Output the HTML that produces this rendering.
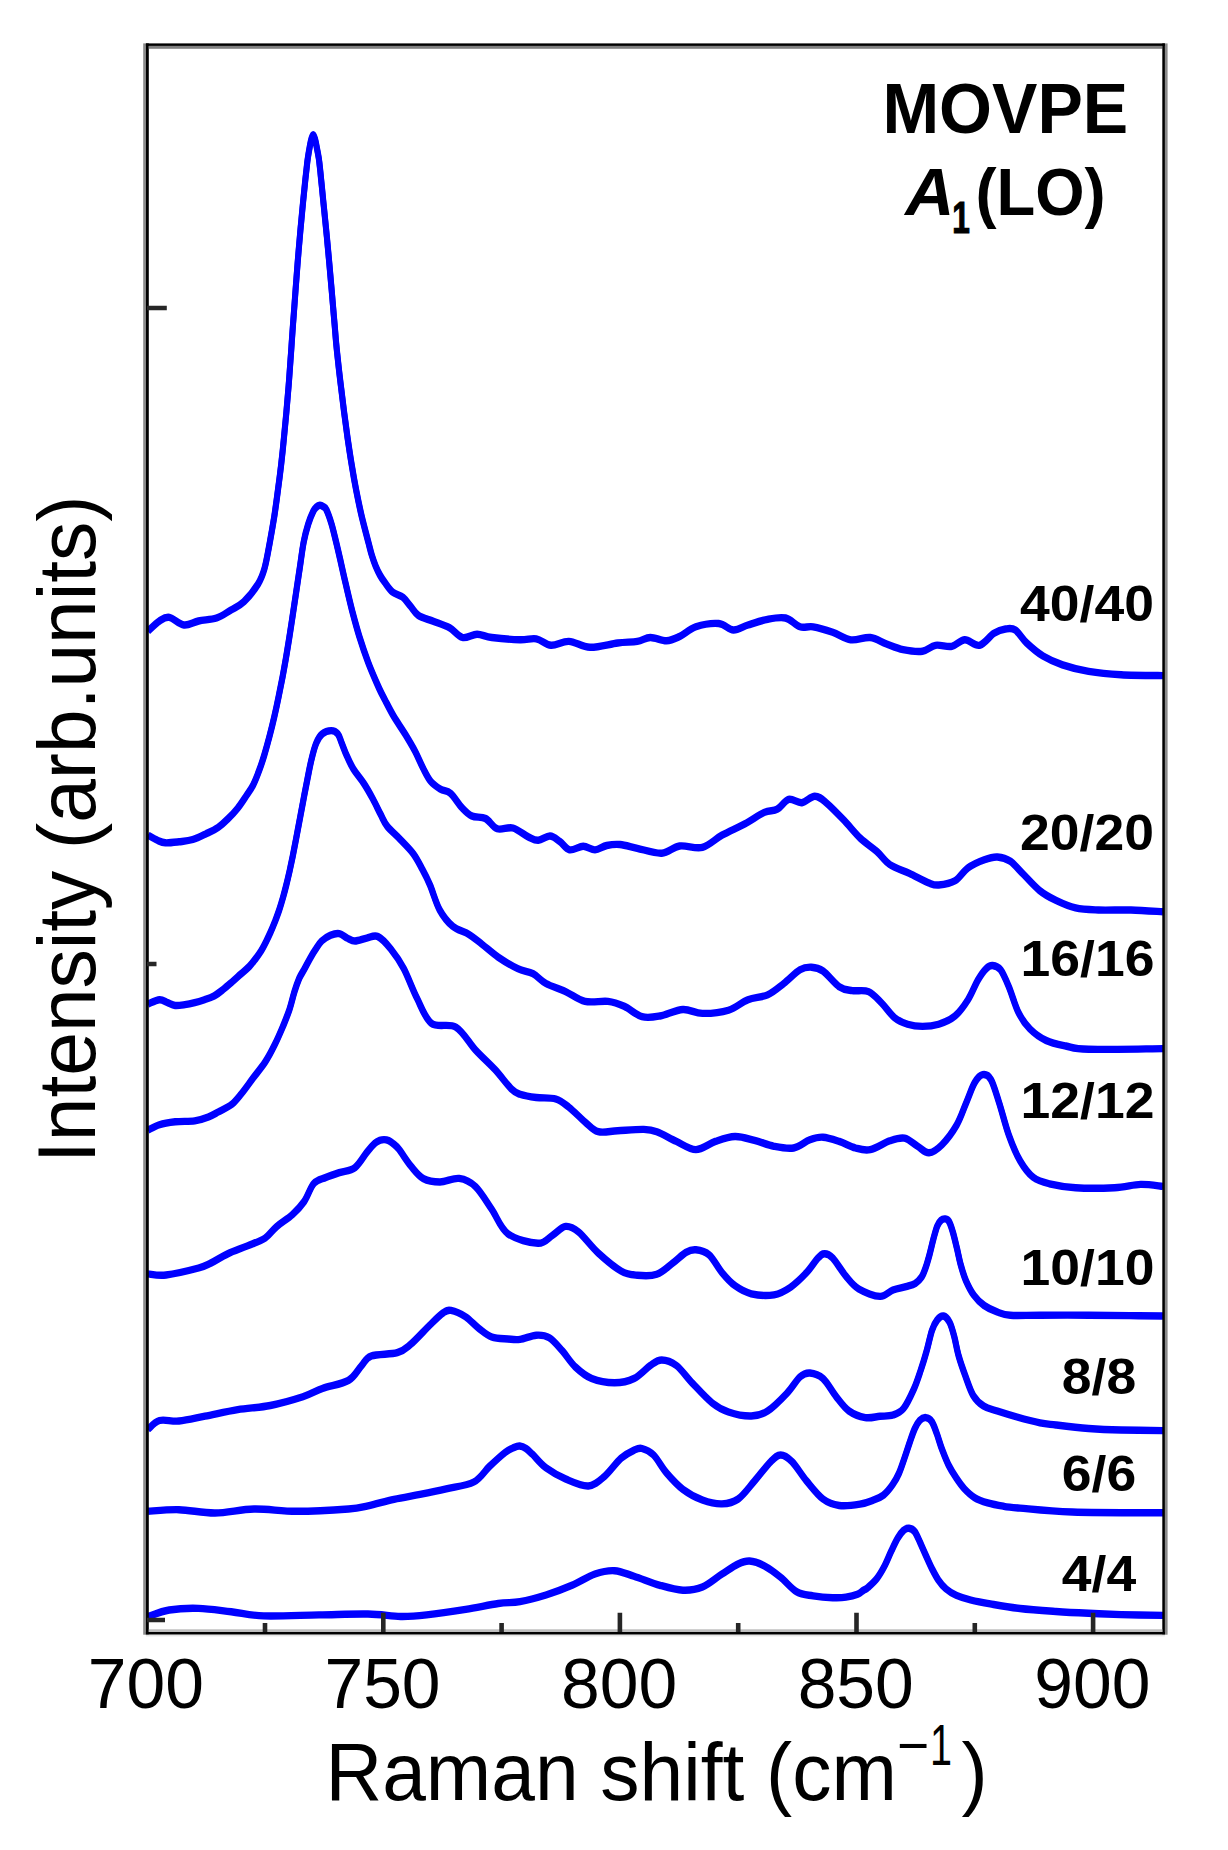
<!DOCTYPE html>
<html lang="en"><head><meta charset="utf-8"><title>MOVPE A1(LO) Raman spectra</title>
<style>
html,body{margin:0;padding:0;background:#fff;}
body{width:1228px;height:1850px;overflow:hidden;}
svg{display:block;}
text{font-family:"Liberation Sans",sans-serif;fill:#000;}
.b{font-weight:bold;}
.crv{fill:none;stroke:#0000ff;stroke-width:6.0;stroke-linejoin:round;stroke-linecap:butt;}
.ax{stroke:#000;stroke-width:4.6;fill:none;}
</style></head><body>
<svg width="1228" height="1850" viewBox="0 0 1228 1850">
<rect x="0" y="0" width="1228" height="1850" fill="#fff"/>
<g class="crv">
<path transform="translate(0 -0.7)" d="M148.1 631.0C150.0 629.3 156.0 623.3 159.5 621.0C163.0 618.7 165.2 616.6 169.3 617.3C173.4 618.0 179.1 624.4 184.0 625.0C188.9 625.6 193.2 622.2 198.6 621.0C204.0 619.8 211.1 619.8 216.5 618.0C221.9 616.2 226.4 612.7 231.0 610.0C235.6 607.3 239.5 605.9 244.0 601.6C248.5 597.3 254.6 589.6 258.0 584.1C261.4 578.6 262.5 575.5 264.5 568.5C266.5 561.5 268.2 551.1 269.8 542.4C271.4 533.7 272.9 525.1 274.3 516.4C275.6 507.7 276.8 499.0 277.9 490.3C279.1 481.6 280.2 472.9 281.2 464.2C282.2 455.5 283.1 446.9 283.9 438.2C284.8 429.5 285.6 420.8 286.4 412.1C287.2 403.4 287.9 394.7 288.6 386.0C289.3 377.3 290.0 367.4 290.5 360.0C291.1 352.6 291.3 348.9 291.8 341.5C292.3 334.1 293.0 324.1 293.7 315.4C294.3 306.7 295.0 298.1 295.6 289.4C296.3 280.7 296.9 272.0 297.6 263.3C298.3 254.6 299.0 246.0 299.8 237.3C300.5 228.6 301.4 219.9 302.2 211.2C303.0 202.5 304.1 191.6 304.8 185.1C305.4 178.6 305.7 176.3 306.2 172.0C306.7 167.7 307.1 163.2 307.7 159.0C308.3 154.8 309.1 150.3 309.7 147.0C310.3 143.7 310.8 141.1 311.4 139.0C312.0 136.9 312.6 134.6 313.2 134.6C313.8 134.6 314.4 136.9 315.0 139.0C315.6 141.1 316.1 143.7 316.7 147.0C317.3 150.3 318.3 154.8 318.9 159.0C319.5 163.2 319.9 167.7 320.4 172.0C320.8 176.3 321.0 178.6 321.7 185.1C322.3 191.6 323.4 202.5 324.3 211.2C325.2 219.9 326.0 228.6 326.9 237.3C327.7 246.0 328.5 254.6 329.3 263.3C330.0 272.0 330.8 280.7 331.6 289.4C332.3 298.1 333.1 306.7 333.8 315.4C334.6 324.1 335.4 334.1 336.0 341.5C336.7 348.9 337.1 352.6 337.9 360.0C338.7 367.4 339.8 377.3 340.9 386.0C341.9 394.7 343.0 403.4 344.1 412.1C345.2 420.8 346.4 429.5 347.6 438.2C348.9 446.9 350.1 455.5 351.6 464.2C353.0 472.9 354.5 481.6 356.2 490.3C357.9 499.0 359.7 507.7 361.7 516.4C363.8 525.1 366.7 535.9 368.4 542.4C370.1 548.9 370.7 551.6 371.9 555.5C373.1 559.4 374.3 562.8 375.6 566.0C376.9 569.2 378.4 572.3 379.9 575.0C381.4 577.7 382.6 579.5 384.7 582.3C386.8 585.1 389.5 589.5 392.5 592.0C395.5 594.5 399.9 594.9 402.9 597.3C405.9 599.7 408.1 603.4 410.7 606.4C413.3 609.4 414.8 613.0 418.5 615.5C422.2 618.0 428.1 619.2 433.2 621.2C438.3 623.2 444.5 625.0 449.4 627.7C454.3 630.4 457.9 636.4 462.5 637.5C467.1 638.6 472.2 634.2 477.1 634.2C482.0 634.2 484.7 636.6 491.8 637.5C498.9 638.4 512.6 639.6 520.0 639.8C527.4 640.0 531.1 637.9 536.3 638.8C541.5 639.7 545.6 644.9 551.0 645.3C556.4 645.7 562.4 641.1 568.9 641.4C575.4 641.7 581.9 647.0 590.0 647.3C598.1 647.6 609.8 644.0 617.7 643.0C625.6 642.0 631.9 642.3 637.3 641.4C642.7 640.5 645.4 637.6 650.3 637.5C655.2 637.4 661.7 641.0 666.6 640.8C671.5 640.6 674.7 638.8 679.6 636.5C684.5 634.2 689.4 629.0 695.9 626.8C702.4 624.6 712.5 623.0 718.7 623.5C725.0 624.0 728.5 629.8 733.4 630.0C738.3 630.2 742.3 626.8 748.0 625.0C753.7 623.2 761.4 620.5 767.6 619.3C773.9 618.1 780.1 616.8 785.5 618.0C790.9 619.2 795.4 625.3 800.0 626.8C804.6 628.3 807.8 625.9 813.2 626.8C818.7 627.7 826.4 630.1 832.7 632.3C839.0 634.5 844.5 638.9 850.8 639.8C857.1 640.7 864.3 636.8 870.3 637.5C876.3 638.2 881.1 642.0 886.6 644.0C892.1 646.0 897.0 648.4 903.0 649.6C909.0 650.8 917.1 651.9 922.5 651.2C927.9 650.5 930.6 646.1 935.5 645.3C940.4 644.5 946.9 647.2 951.8 646.3C956.7 645.4 960.2 640.0 964.8 639.8C969.4 639.6 974.6 646.4 979.5 645.3C984.4 644.2 989.7 636.0 994.0 633.3C998.3 630.6 1002.0 629.5 1005.5 629.0C1009.0 628.5 1011.8 627.7 1015.3 630.0C1018.8 632.3 1022.1 638.7 1026.7 643.0C1031.3 647.3 1037.0 652.4 1043.0 656.0C1049.0 659.6 1054.9 662.3 1062.5 664.9C1070.1 667.5 1078.8 669.8 1088.6 671.4C1098.3 673.0 1108.6 674.0 1121.0 674.7C1133.4 675.4 1156.0 675.5 1163.0 675.6"/>
<path transform="translate(0 0.7)" d="M148.1 631.0C150.0 629.3 156.0 623.3 159.5 621.0C163.0 618.7 165.2 616.6 169.3 617.3C173.4 618.0 179.1 624.4 184.0 625.0C188.9 625.6 193.2 622.2 198.6 621.0C204.0 619.8 211.1 619.8 216.5 618.0C221.9 616.2 226.4 612.7 231.0 610.0C235.6 607.3 239.5 605.9 244.0 601.6C248.5 597.3 254.6 589.6 258.0 584.1C261.4 578.6 262.5 575.5 264.5 568.5C266.5 561.5 268.2 551.1 269.8 542.4C271.4 533.7 272.9 525.1 274.3 516.4C275.6 507.7 276.8 499.0 277.9 490.3C279.1 481.6 280.2 472.9 281.2 464.2C282.2 455.5 283.1 446.9 283.9 438.2C284.8 429.5 285.6 420.8 286.4 412.1C287.2 403.4 287.9 394.7 288.6 386.0C289.3 377.3 290.0 367.4 290.5 360.0C291.1 352.6 291.3 348.9 291.8 341.5C292.3 334.1 293.0 324.1 293.7 315.4C294.3 306.7 295.0 298.1 295.6 289.4C296.3 280.7 296.9 272.0 297.6 263.3C298.3 254.6 299.0 246.0 299.8 237.3C300.5 228.6 301.4 219.9 302.2 211.2C303.0 202.5 304.1 191.6 304.8 185.1C305.4 178.6 305.7 176.3 306.2 172.0C306.7 167.7 307.1 163.2 307.7 159.0C308.3 154.8 309.1 150.3 309.7 147.0C310.3 143.7 310.8 141.1 311.4 139.0C312.0 136.9 312.6 134.6 313.2 134.6C313.8 134.6 314.4 136.9 315.0 139.0C315.6 141.1 316.1 143.7 316.7 147.0C317.3 150.3 318.3 154.8 318.9 159.0C319.5 163.2 319.9 167.7 320.4 172.0C320.8 176.3 321.0 178.6 321.7 185.1C322.3 191.6 323.4 202.5 324.3 211.2C325.2 219.9 326.0 228.6 326.9 237.3C327.7 246.0 328.5 254.6 329.3 263.3C330.0 272.0 330.8 280.7 331.6 289.4C332.3 298.1 333.1 306.7 333.8 315.4C334.6 324.1 335.4 334.1 336.0 341.5C336.7 348.9 337.1 352.6 337.9 360.0C338.7 367.4 339.8 377.3 340.9 386.0C341.9 394.7 343.0 403.4 344.1 412.1C345.2 420.8 346.4 429.5 347.6 438.2C348.9 446.9 350.1 455.5 351.6 464.2C353.0 472.9 354.5 481.6 356.2 490.3C357.9 499.0 359.7 507.7 361.7 516.4C363.8 525.1 366.7 535.9 368.4 542.4C370.1 548.9 370.7 551.6 371.9 555.5C373.1 559.4 374.3 562.8 375.6 566.0C376.9 569.2 378.4 572.3 379.9 575.0C381.4 577.7 382.6 579.5 384.7 582.3C386.8 585.1 389.5 589.5 392.5 592.0C395.5 594.5 399.9 594.9 402.9 597.3C405.9 599.7 408.1 603.4 410.7 606.4C413.3 609.4 414.8 613.0 418.5 615.5C422.2 618.0 428.1 619.2 433.2 621.2C438.3 623.2 444.5 625.0 449.4 627.7C454.3 630.4 457.9 636.4 462.5 637.5C467.1 638.6 472.2 634.2 477.1 634.2C482.0 634.2 484.7 636.6 491.8 637.5C498.9 638.4 512.6 639.6 520.0 639.8C527.4 640.0 531.1 637.9 536.3 638.8C541.5 639.7 545.6 644.9 551.0 645.3C556.4 645.7 562.4 641.1 568.9 641.4C575.4 641.7 581.9 647.0 590.0 647.3C598.1 647.6 609.8 644.0 617.7 643.0C625.6 642.0 631.9 642.3 637.3 641.4C642.7 640.5 645.4 637.6 650.3 637.5C655.2 637.4 661.7 641.0 666.6 640.8C671.5 640.6 674.7 638.8 679.6 636.5C684.5 634.2 689.4 629.0 695.9 626.8C702.4 624.6 712.5 623.0 718.7 623.5C725.0 624.0 728.5 629.8 733.4 630.0C738.3 630.2 742.3 626.8 748.0 625.0C753.7 623.2 761.4 620.5 767.6 619.3C773.9 618.1 780.1 616.8 785.5 618.0C790.9 619.2 795.4 625.3 800.0 626.8C804.6 628.3 807.8 625.9 813.2 626.8C818.7 627.7 826.4 630.1 832.7 632.3C839.0 634.5 844.5 638.9 850.8 639.8C857.1 640.7 864.3 636.8 870.3 637.5C876.3 638.2 881.1 642.0 886.6 644.0C892.1 646.0 897.0 648.4 903.0 649.6C909.0 650.8 917.1 651.9 922.5 651.2C927.9 650.5 930.6 646.1 935.5 645.3C940.4 644.5 946.9 647.2 951.8 646.3C956.7 645.4 960.2 640.0 964.8 639.8C969.4 639.6 974.6 646.4 979.5 645.3C984.4 644.2 989.7 636.0 994.0 633.3C998.3 630.6 1002.0 629.5 1005.5 629.0C1009.0 628.5 1011.8 627.7 1015.3 630.0C1018.8 632.3 1022.1 638.7 1026.7 643.0C1031.3 647.3 1037.0 652.4 1043.0 656.0C1049.0 659.6 1054.9 662.3 1062.5 664.9C1070.1 667.5 1078.8 669.8 1088.6 671.4C1098.3 673.0 1108.6 674.0 1121.0 674.7C1133.4 675.4 1156.0 675.5 1163.0 675.6"/>
<path transform="translate(0 -0.7)" d="M148.1 835.2C149.7 836.1 154.7 839.1 157.6 840.4C160.5 841.7 161.8 842.6 165.4 842.8C169.0 843.0 174.5 842.3 179.1 841.8C183.7 841.2 188.2 840.9 192.8 839.5C197.4 838.1 202.2 835.6 206.4 833.6C210.6 831.6 214.6 829.8 218.2 827.3C221.8 824.8 224.7 822.1 227.9 818.9C231.2 815.7 234.6 812.1 237.7 808.2C240.8 804.3 243.9 799.4 246.5 795.5C249.1 791.6 251.2 788.9 253.3 784.7C255.4 780.5 257.5 775.0 259.3 770.1C261.1 765.2 262.5 761.1 264.2 755.4C265.9 749.7 267.9 742.4 269.6 735.9C271.3 729.4 272.9 722.8 274.4 716.3C275.9 709.8 277.3 703.3 278.6 696.8C279.9 690.3 281.2 683.8 282.5 677.3C283.7 670.8 284.9 664.2 286.0 657.7C287.1 651.2 288.1 645.2 289.2 638.2C290.3 631.2 291.5 623.4 292.6 616.0C293.7 608.6 294.7 601.9 295.9 594.0C297.0 586.1 298.4 577.1 299.7 568.5C301.0 559.9 302.2 549.8 303.6 542.4C305.0 535.0 306.6 529.4 308.2 524.2C309.8 519.0 312.0 514.0 313.4 511.1C314.8 508.2 315.4 508.0 316.5 507.0C317.6 506.0 318.8 505.4 319.9 505.3C321.0 505.2 322.2 505.9 323.3 506.7C324.4 507.4 325.0 506.9 326.4 509.8C327.8 512.7 330.0 518.8 331.6 524.2C333.2 529.6 334.8 536.7 336.2 542.4C337.6 548.1 338.3 551.2 339.9 558.2C341.5 565.2 343.7 575.5 345.8 584.2C347.8 592.9 349.8 601.6 352.0 610.3C354.3 619.0 356.6 627.7 359.3 636.4C362.0 645.1 364.9 653.7 368.2 662.4C371.5 671.1 376.4 682.2 379.2 688.5C382.1 694.8 382.6 695.4 385.0 700.0C387.4 704.6 390.3 710.5 393.7 716.3C397.1 722.0 401.8 728.6 405.4 734.5C409.0 740.4 412.3 745.9 415.2 751.5C418.1 757.1 420.4 763.0 423.0 768.0C425.6 773.0 427.9 778.0 430.8 781.5C433.7 785.0 437.3 787.2 440.6 789.2C443.9 791.2 446.8 790.2 450.4 793.3C454.0 796.4 458.4 803.9 462.0 807.7C465.6 811.5 468.0 814.2 471.9 816.0C475.8 817.8 481.3 816.4 485.5 818.5C489.7 820.6 492.7 827.2 497.3 828.8C501.9 830.4 507.7 826.6 512.9 828.0C518.1 829.4 524.3 835.0 528.5 837.0C532.7 839.0 534.7 840.5 538.3 840.3C541.9 840.1 546.4 835.8 550.0 836.0C553.6 836.2 556.5 839.2 559.8 841.5C563.1 843.8 565.7 849.0 569.6 849.8C573.5 850.6 579.0 846.3 583.2 846.3C587.4 846.3 591.1 850.0 595.0 849.9C598.9 849.8 602.5 846.4 606.7 845.5C610.9 844.6 614.9 844.0 620.0 844.5C625.1 845.0 630.3 846.8 637.3 848.3C644.2 849.8 654.7 853.6 661.7 853.2C668.8 852.8 672.8 847.0 679.6 846.0C686.4 845.0 695.3 849.1 702.4 847.3C709.5 845.5 714.9 839.1 722.0 835.2C729.1 831.3 737.8 827.6 744.8 823.8C751.8 820.0 758.9 814.8 764.3 812.4C769.7 810.0 773.2 811.4 777.3 809.2C781.4 807.0 784.6 800.5 788.7 799.4C792.8 798.3 797.4 803.2 801.8 802.7C806.1 802.2 810.7 796.2 814.8 796.2C818.9 796.2 821.3 798.6 826.2 802.7C831.1 806.8 838.6 814.6 844.3 820.6C850.0 826.6 855.2 833.4 860.6 838.5C866.0 843.6 872.0 847.1 876.9 851.5C881.8 855.9 884.5 861.0 889.9 864.6C895.3 868.2 902.9 870.3 909.4 873.4C915.9 876.5 924.1 881.1 929.0 883.0C933.9 884.9 934.4 885.4 938.7 885.0C943.0 884.6 950.1 883.7 955.0 880.8C959.9 877.9 963.1 871.3 968.0 867.8C972.9 864.3 979.5 861.5 984.4 859.7C989.3 857.9 993.1 856.7 997.4 857.0C1001.7 857.3 1006.1 858.4 1010.4 861.3C1014.7 864.2 1018.5 869.4 1023.4 874.3C1028.3 879.2 1034.3 886.2 1039.7 890.6C1045.1 895.0 1050.0 897.5 1056.0 900.4C1062.0 903.3 1068.5 906.3 1075.6 907.9C1082.7 909.5 1089.2 909.6 1098.4 910.0C1107.6 910.4 1120.2 909.7 1131.0 910.0C1141.8 910.3 1157.7 911.5 1163.0 911.8"/>
<path transform="translate(0 0.7)" d="M148.1 835.2C149.7 836.1 154.7 839.1 157.6 840.4C160.5 841.7 161.8 842.6 165.4 842.8C169.0 843.0 174.5 842.3 179.1 841.8C183.7 841.2 188.2 840.9 192.8 839.5C197.4 838.1 202.2 835.6 206.4 833.6C210.6 831.6 214.6 829.8 218.2 827.3C221.8 824.8 224.7 822.1 227.9 818.9C231.2 815.7 234.6 812.1 237.7 808.2C240.8 804.3 243.9 799.4 246.5 795.5C249.1 791.6 251.2 788.9 253.3 784.7C255.4 780.5 257.5 775.0 259.3 770.1C261.1 765.2 262.5 761.1 264.2 755.4C265.9 749.7 267.9 742.4 269.6 735.9C271.3 729.4 272.9 722.8 274.4 716.3C275.9 709.8 277.3 703.3 278.6 696.8C279.9 690.3 281.2 683.8 282.5 677.3C283.7 670.8 284.9 664.2 286.0 657.7C287.1 651.2 288.1 645.2 289.2 638.2C290.3 631.2 291.5 623.4 292.6 616.0C293.7 608.6 294.7 601.9 295.9 594.0C297.0 586.1 298.4 577.1 299.7 568.5C301.0 559.9 302.2 549.8 303.6 542.4C305.0 535.0 306.6 529.4 308.2 524.2C309.8 519.0 312.0 514.0 313.4 511.1C314.8 508.2 315.4 508.0 316.5 507.0C317.6 506.0 318.8 505.4 319.9 505.3C321.0 505.2 322.2 505.9 323.3 506.7C324.4 507.4 325.0 506.9 326.4 509.8C327.8 512.7 330.0 518.8 331.6 524.2C333.2 529.6 334.8 536.7 336.2 542.4C337.6 548.1 338.3 551.2 339.9 558.2C341.5 565.2 343.7 575.5 345.8 584.2C347.8 592.9 349.8 601.6 352.0 610.3C354.3 619.0 356.6 627.7 359.3 636.4C362.0 645.1 364.9 653.7 368.2 662.4C371.5 671.1 376.4 682.2 379.2 688.5C382.1 694.8 382.6 695.4 385.0 700.0C387.4 704.6 390.3 710.5 393.7 716.3C397.1 722.0 401.8 728.6 405.4 734.5C409.0 740.4 412.3 745.9 415.2 751.5C418.1 757.1 420.4 763.0 423.0 768.0C425.6 773.0 427.9 778.0 430.8 781.5C433.7 785.0 437.3 787.2 440.6 789.2C443.9 791.2 446.8 790.2 450.4 793.3C454.0 796.4 458.4 803.9 462.0 807.7C465.6 811.5 468.0 814.2 471.9 816.0C475.8 817.8 481.3 816.4 485.5 818.5C489.7 820.6 492.7 827.2 497.3 828.8C501.9 830.4 507.7 826.6 512.9 828.0C518.1 829.4 524.3 835.0 528.5 837.0C532.7 839.0 534.7 840.5 538.3 840.3C541.9 840.1 546.4 835.8 550.0 836.0C553.6 836.2 556.5 839.2 559.8 841.5C563.1 843.8 565.7 849.0 569.6 849.8C573.5 850.6 579.0 846.3 583.2 846.3C587.4 846.3 591.1 850.0 595.0 849.9C598.9 849.8 602.5 846.4 606.7 845.5C610.9 844.6 614.9 844.0 620.0 844.5C625.1 845.0 630.3 846.8 637.3 848.3C644.2 849.8 654.7 853.6 661.7 853.2C668.8 852.8 672.8 847.0 679.6 846.0C686.4 845.0 695.3 849.1 702.4 847.3C709.5 845.5 714.9 839.1 722.0 835.2C729.1 831.3 737.8 827.6 744.8 823.8C751.8 820.0 758.9 814.8 764.3 812.4C769.7 810.0 773.2 811.4 777.3 809.2C781.4 807.0 784.6 800.5 788.7 799.4C792.8 798.3 797.4 803.2 801.8 802.7C806.1 802.2 810.7 796.2 814.8 796.2C818.9 796.2 821.3 798.6 826.2 802.7C831.1 806.8 838.6 814.6 844.3 820.6C850.0 826.6 855.2 833.4 860.6 838.5C866.0 843.6 872.0 847.1 876.9 851.5C881.8 855.9 884.5 861.0 889.9 864.6C895.3 868.2 902.9 870.3 909.4 873.4C915.9 876.5 924.1 881.1 929.0 883.0C933.9 884.9 934.4 885.4 938.7 885.0C943.0 884.6 950.1 883.7 955.0 880.8C959.9 877.9 963.1 871.3 968.0 867.8C972.9 864.3 979.5 861.5 984.4 859.7C989.3 857.9 993.1 856.7 997.4 857.0C1001.7 857.3 1006.1 858.4 1010.4 861.3C1014.7 864.2 1018.5 869.4 1023.4 874.3C1028.3 879.2 1034.3 886.2 1039.7 890.6C1045.1 895.0 1050.0 897.5 1056.0 900.4C1062.0 903.3 1068.5 906.3 1075.6 907.9C1082.7 909.5 1089.2 909.6 1098.4 910.0C1107.6 910.4 1120.2 909.7 1131.0 910.0C1141.8 910.3 1157.7 911.5 1163.0 911.8"/>
<path transform="translate(0 -0.7)" d="M148.1 1004.0C150.0 1003.3 156.3 999.9 159.5 999.7C162.7 999.5 164.8 1001.6 167.4 1002.6C170.0 1003.6 172.3 1005.2 175.2 1005.5C178.1 1005.8 181.7 1005.1 184.9 1004.6C188.2 1004.1 191.4 1003.4 194.7 1002.6C198.0 1001.8 201.2 1000.8 204.5 999.7C207.8 998.6 211.2 997.5 214.3 995.8C217.4 994.1 220.2 991.8 223.1 989.5C226.0 987.2 229.0 984.6 231.9 982.1C234.8 979.6 237.7 976.9 240.6 974.3C243.5 971.7 246.9 969.0 249.4 966.4C251.9 963.8 253.7 961.2 255.7 958.6C257.7 956.0 259.4 953.7 261.2 950.8C263.0 947.9 264.9 944.0 266.4 941.0C267.9 938.0 268.9 935.8 270.4 932.5C271.9 929.2 273.7 924.8 275.2 921.0C276.6 917.2 277.9 913.9 279.2 910.0C280.5 906.1 281.8 901.7 283.0 897.5C284.2 893.3 285.2 889.4 286.3 885.0C287.4 880.6 288.5 875.8 289.6 871.0C290.6 866.2 291.3 863.2 292.7 856.4C294.0 849.6 296.1 839.0 297.7 830.3C299.4 821.6 300.9 812.9 302.6 804.2C304.2 795.5 306.1 785.8 307.6 778.2C309.1 770.6 310.2 764.5 311.7 758.6C313.1 752.7 314.6 747.1 316.3 743.0C318.0 738.9 319.6 736.0 322.1 733.9C324.6 731.8 328.6 730.6 331.2 730.6C333.8 730.6 336.1 731.8 337.8 733.9C339.6 736.0 340.2 739.3 341.7 743.0C343.2 746.7 344.9 751.7 346.9 756.0C348.8 760.3 350.6 764.4 353.4 769.0C356.2 773.6 360.6 778.4 363.8 783.4C367.1 788.4 370.1 793.8 372.9 799.0C375.7 804.2 378.4 810.1 380.8 814.7C383.2 819.3 384.1 822.3 387.3 826.4C390.6 830.5 396.0 834.8 400.3 839.4C404.6 844.0 409.6 848.7 413.3 853.7C417.0 858.7 419.6 864.2 422.4 869.4C425.2 874.6 427.1 878.2 430.0 885.0C432.9 891.8 435.9 903.1 439.7 910.0C443.5 916.9 447.8 922.2 452.7 926.3C457.6 930.4 464.1 931.4 469.0 934.4C473.9 937.4 477.1 940.4 482.0 944.2C486.9 948.0 492.3 953.1 498.3 957.2C504.3 961.3 512.0 965.9 517.8 968.6C523.6 971.4 528.3 971.2 533.0 973.7C537.7 976.2 540.6 980.5 546.0 983.5C551.4 986.5 559.1 988.6 565.6 991.6C572.1 994.6 577.9 999.8 585.0 1001.4C592.1 1003.0 601.5 1000.6 608.0 1001.4C614.5 1002.2 618.5 1003.8 624.2 1006.3C629.9 1008.8 636.0 1015.1 642.0 1016.7C648.0 1018.3 653.2 1017.2 660.0 1016.0C666.8 1014.8 675.8 1009.9 682.9 1009.5C690.0 1009.1 694.8 1013.3 702.4 1013.4C710.0 1013.5 720.9 1012.5 728.5 1010.2C736.1 1007.9 741.5 1002.2 748.0 999.7C754.5 997.2 761.6 997.6 767.6 994.9C773.6 992.2 778.4 987.7 783.8 983.5C789.2 979.3 795.4 972.5 800.0 969.8C804.6 967.1 807.7 967.0 811.5 967.2C815.3 967.4 818.4 967.8 823.0 971.0C827.6 974.2 834.3 983.4 839.2 986.7C844.1 990.0 847.3 989.8 852.2 990.6C857.1 991.4 863.6 989.5 868.5 991.6C873.4 993.7 877.2 998.6 881.6 1003.0C886.0 1007.4 890.3 1014.2 894.6 1017.7C898.9 1021.2 903.0 1022.8 907.6 1024.2C912.2 1025.7 917.3 1026.4 922.5 1026.4C927.7 1026.4 933.3 1025.9 938.7 1024.2C944.1 1022.5 950.1 1020.1 955.0 1016.0C959.9 1011.9 964.2 1005.7 968.0 999.7C971.8 993.7 974.8 985.4 977.8 980.2C980.8 975.1 983.5 971.2 986.0 968.8C988.5 966.3 990.1 965.3 992.5 965.5C994.9 965.7 997.9 966.3 1000.6 969.8C1003.3 973.3 1005.8 979.5 1008.8 986.7C1011.8 993.9 1015.1 1005.8 1018.6 1012.8C1022.1 1019.8 1025.4 1024.4 1030.0 1029.0C1034.6 1033.6 1040.2 1037.7 1046.2 1040.5C1052.2 1043.3 1058.7 1044.5 1065.8 1046.0C1072.9 1047.5 1072.4 1048.9 1088.6 1049.3C1104.8 1049.7 1150.6 1048.7 1163.0 1048.6"/>
<path transform="translate(0 0.7)" d="M148.1 1004.0C150.0 1003.3 156.3 999.9 159.5 999.7C162.7 999.5 164.8 1001.6 167.4 1002.6C170.0 1003.6 172.3 1005.2 175.2 1005.5C178.1 1005.8 181.7 1005.1 184.9 1004.6C188.2 1004.1 191.4 1003.4 194.7 1002.6C198.0 1001.8 201.2 1000.8 204.5 999.7C207.8 998.6 211.2 997.5 214.3 995.8C217.4 994.1 220.2 991.8 223.1 989.5C226.0 987.2 229.0 984.6 231.9 982.1C234.8 979.6 237.7 976.9 240.6 974.3C243.5 971.7 246.9 969.0 249.4 966.4C251.9 963.8 253.7 961.2 255.7 958.6C257.7 956.0 259.4 953.7 261.2 950.8C263.0 947.9 264.9 944.0 266.4 941.0C267.9 938.0 268.9 935.8 270.4 932.5C271.9 929.2 273.7 924.8 275.2 921.0C276.6 917.2 277.9 913.9 279.2 910.0C280.5 906.1 281.8 901.7 283.0 897.5C284.2 893.3 285.2 889.4 286.3 885.0C287.4 880.6 288.5 875.8 289.6 871.0C290.6 866.2 291.3 863.2 292.7 856.4C294.0 849.6 296.1 839.0 297.7 830.3C299.4 821.6 300.9 812.9 302.6 804.2C304.2 795.5 306.1 785.8 307.6 778.2C309.1 770.6 310.2 764.5 311.7 758.6C313.1 752.7 314.6 747.1 316.3 743.0C318.0 738.9 319.6 736.0 322.1 733.9C324.6 731.8 328.6 730.6 331.2 730.6C333.8 730.6 336.1 731.8 337.8 733.9C339.6 736.0 340.2 739.3 341.7 743.0C343.2 746.7 344.9 751.7 346.9 756.0C348.8 760.3 350.6 764.4 353.4 769.0C356.2 773.6 360.6 778.4 363.8 783.4C367.1 788.4 370.1 793.8 372.9 799.0C375.7 804.2 378.4 810.1 380.8 814.7C383.2 819.3 384.1 822.3 387.3 826.4C390.6 830.5 396.0 834.8 400.3 839.4C404.6 844.0 409.6 848.7 413.3 853.7C417.0 858.7 419.6 864.2 422.4 869.4C425.2 874.6 427.1 878.2 430.0 885.0C432.9 891.8 435.9 903.1 439.7 910.0C443.5 916.9 447.8 922.2 452.7 926.3C457.6 930.4 464.1 931.4 469.0 934.4C473.9 937.4 477.1 940.4 482.0 944.2C486.9 948.0 492.3 953.1 498.3 957.2C504.3 961.3 512.0 965.9 517.8 968.6C523.6 971.4 528.3 971.2 533.0 973.7C537.7 976.2 540.6 980.5 546.0 983.5C551.4 986.5 559.1 988.6 565.6 991.6C572.1 994.6 577.9 999.8 585.0 1001.4C592.1 1003.0 601.5 1000.6 608.0 1001.4C614.5 1002.2 618.5 1003.8 624.2 1006.3C629.9 1008.8 636.0 1015.1 642.0 1016.7C648.0 1018.3 653.2 1017.2 660.0 1016.0C666.8 1014.8 675.8 1009.9 682.9 1009.5C690.0 1009.1 694.8 1013.3 702.4 1013.4C710.0 1013.5 720.9 1012.5 728.5 1010.2C736.1 1007.9 741.5 1002.2 748.0 999.7C754.5 997.2 761.6 997.6 767.6 994.9C773.6 992.2 778.4 987.7 783.8 983.5C789.2 979.3 795.4 972.5 800.0 969.8C804.6 967.1 807.7 967.0 811.5 967.2C815.3 967.4 818.4 967.8 823.0 971.0C827.6 974.2 834.3 983.4 839.2 986.7C844.1 990.0 847.3 989.8 852.2 990.6C857.1 991.4 863.6 989.5 868.5 991.6C873.4 993.7 877.2 998.6 881.6 1003.0C886.0 1007.4 890.3 1014.2 894.6 1017.7C898.9 1021.2 903.0 1022.8 907.6 1024.2C912.2 1025.7 917.3 1026.4 922.5 1026.4C927.7 1026.4 933.3 1025.9 938.7 1024.2C944.1 1022.5 950.1 1020.1 955.0 1016.0C959.9 1011.9 964.2 1005.7 968.0 999.7C971.8 993.7 974.8 985.4 977.8 980.2C980.8 975.1 983.5 971.2 986.0 968.8C988.5 966.3 990.1 965.3 992.5 965.5C994.9 965.7 997.9 966.3 1000.6 969.8C1003.3 973.3 1005.8 979.5 1008.8 986.7C1011.8 993.9 1015.1 1005.8 1018.6 1012.8C1022.1 1019.8 1025.4 1024.4 1030.0 1029.0C1034.6 1033.6 1040.2 1037.7 1046.2 1040.5C1052.2 1043.3 1058.7 1044.5 1065.8 1046.0C1072.9 1047.5 1072.4 1048.9 1088.6 1049.3C1104.8 1049.7 1150.6 1048.7 1163.0 1048.6"/>
<path transform="translate(0 -0.7)" d="M148.1 1130.0C150.0 1129.1 155.0 1126.1 159.5 1124.7C164.0 1123.3 169.3 1122.5 175.2 1121.8C181.1 1121.1 189.2 1121.6 194.7 1120.8C200.2 1120.0 204.5 1118.4 208.4 1116.9C212.3 1115.4 214.3 1114.1 218.2 1112.0C222.1 1109.9 228.0 1107.3 231.9 1104.2C235.8 1101.1 238.0 1097.9 241.6 1093.5C245.2 1089.1 249.4 1083.0 253.3 1077.8C257.2 1072.6 261.5 1067.7 265.1 1062.2C268.7 1056.7 271.9 1050.5 274.8 1044.6C277.7 1038.7 280.2 1032.9 282.7 1027.0C285.1 1021.1 287.6 1015.2 289.5 1009.4C291.4 1003.5 292.8 997.1 294.4 991.9C296.0 986.7 297.7 982.0 299.3 978.2C300.9 974.5 302.4 972.7 304.2 969.4C306.0 966.1 308.1 962.0 310.0 958.6C311.9 955.2 313.9 951.8 315.9 948.9C317.8 946.0 319.3 943.3 321.7 941.0C324.1 938.7 327.6 936.4 330.5 935.2C333.4 934.0 336.5 933.1 339.3 933.6C342.1 934.1 344.6 936.9 347.2 938.1C349.8 939.3 351.8 941.0 355.0 941.0C358.2 941.0 362.9 938.9 366.7 938.1C370.5 937.4 373.8 934.7 377.8 936.5C381.8 938.3 386.5 943.6 390.8 949.0C395.1 954.4 399.5 960.4 403.8 968.6C408.1 976.8 412.3 988.9 416.9 998.0C421.5 1007.1 425.0 1018.4 431.5 1023.3C438.0 1028.2 448.7 1022.8 456.0 1027.2C463.3 1031.7 469.0 1042.9 475.5 1050.0C482.0 1057.1 489.0 1063.1 495.0 1069.6C501.0 1076.1 507.1 1084.8 511.3 1088.9C515.5 1093.0 515.8 1092.8 520.0 1094.2C524.2 1095.6 530.3 1096.7 536.3 1097.5C542.3 1098.3 550.4 1097.4 555.8 1099.0C561.2 1100.6 564.0 1103.4 568.9 1107.2C573.8 1111.0 580.1 1117.8 585.0 1121.9C589.9 1126.0 592.8 1130.2 598.2 1131.7C603.7 1133.2 610.1 1131.1 617.7 1130.7C625.3 1130.3 637.3 1129.2 643.8 1129.4C650.3 1129.6 651.4 1129.7 656.8 1131.7C662.2 1133.7 669.9 1138.4 676.4 1141.4C682.9 1144.4 689.4 1149.6 695.9 1149.6C702.4 1149.6 708.9 1143.6 715.4 1141.4C721.9 1139.2 728.5 1136.7 735.0 1136.5C741.5 1136.3 748.0 1138.8 754.5 1140.4C761.0 1142.0 767.5 1145.0 774.0 1146.3C780.5 1147.6 787.6 1149.1 793.6 1148.0C799.6 1146.9 805.0 1141.6 809.9 1139.8C814.8 1138.0 818.1 1136.9 823.0 1137.2C827.9 1137.5 833.8 1139.6 839.2 1141.4C844.6 1143.2 850.3 1146.6 855.5 1148.0C860.7 1149.4 864.6 1150.8 870.3 1149.6C876.0 1148.4 884.2 1142.7 889.9 1140.8C895.6 1138.9 899.9 1137.3 904.5 1138.2C909.1 1139.1 913.5 1143.9 917.6 1146.3C921.7 1148.7 924.9 1153.1 929.0 1152.8C933.1 1152.5 937.4 1149.3 942.0 1144.7C946.6 1140.1 952.6 1132.1 956.7 1125.0C960.8 1117.9 963.4 1109.3 966.4 1102.3C969.4 1095.3 971.9 1087.4 974.6 1082.8C977.3 1078.2 980.0 1075.2 982.7 1074.7C985.4 1074.2 988.2 1074.9 990.9 1079.5C993.6 1084.1 996.0 1093.0 999.0 1102.3C1002.0 1111.5 1005.3 1125.2 1008.8 1135.0C1012.3 1144.8 1016.1 1154.0 1020.2 1161.0C1024.3 1168.0 1028.3 1173.5 1033.2 1177.3C1038.1 1181.1 1042.4 1182.1 1049.5 1183.8C1056.6 1185.5 1064.8 1187.0 1075.6 1187.7C1086.4 1188.4 1103.8 1188.2 1114.6 1187.7C1125.4 1187.2 1132.6 1184.6 1140.7 1184.4C1148.8 1184.2 1159.3 1186.1 1163.0 1186.4"/>
<path transform="translate(0 0.7)" d="M148.1 1130.0C150.0 1129.1 155.0 1126.1 159.5 1124.7C164.0 1123.3 169.3 1122.5 175.2 1121.8C181.1 1121.1 189.2 1121.6 194.7 1120.8C200.2 1120.0 204.5 1118.4 208.4 1116.9C212.3 1115.4 214.3 1114.1 218.2 1112.0C222.1 1109.9 228.0 1107.3 231.9 1104.2C235.8 1101.1 238.0 1097.9 241.6 1093.5C245.2 1089.1 249.4 1083.0 253.3 1077.8C257.2 1072.6 261.5 1067.7 265.1 1062.2C268.7 1056.7 271.9 1050.5 274.8 1044.6C277.7 1038.7 280.2 1032.9 282.7 1027.0C285.1 1021.1 287.6 1015.2 289.5 1009.4C291.4 1003.5 292.8 997.1 294.4 991.9C296.0 986.7 297.7 982.0 299.3 978.2C300.9 974.5 302.4 972.7 304.2 969.4C306.0 966.1 308.1 962.0 310.0 958.6C311.9 955.2 313.9 951.8 315.9 948.9C317.8 946.0 319.3 943.3 321.7 941.0C324.1 938.7 327.6 936.4 330.5 935.2C333.4 934.0 336.5 933.1 339.3 933.6C342.1 934.1 344.6 936.9 347.2 938.1C349.8 939.3 351.8 941.0 355.0 941.0C358.2 941.0 362.9 938.9 366.7 938.1C370.5 937.4 373.8 934.7 377.8 936.5C381.8 938.3 386.5 943.6 390.8 949.0C395.1 954.4 399.5 960.4 403.8 968.6C408.1 976.8 412.3 988.9 416.9 998.0C421.5 1007.1 425.0 1018.4 431.5 1023.3C438.0 1028.2 448.7 1022.8 456.0 1027.2C463.3 1031.7 469.0 1042.9 475.5 1050.0C482.0 1057.1 489.0 1063.1 495.0 1069.6C501.0 1076.1 507.1 1084.8 511.3 1088.9C515.5 1093.0 515.8 1092.8 520.0 1094.2C524.2 1095.6 530.3 1096.7 536.3 1097.5C542.3 1098.3 550.4 1097.4 555.8 1099.0C561.2 1100.6 564.0 1103.4 568.9 1107.2C573.8 1111.0 580.1 1117.8 585.0 1121.9C589.9 1126.0 592.8 1130.2 598.2 1131.7C603.7 1133.2 610.1 1131.1 617.7 1130.7C625.3 1130.3 637.3 1129.2 643.8 1129.4C650.3 1129.6 651.4 1129.7 656.8 1131.7C662.2 1133.7 669.9 1138.4 676.4 1141.4C682.9 1144.4 689.4 1149.6 695.9 1149.6C702.4 1149.6 708.9 1143.6 715.4 1141.4C721.9 1139.2 728.5 1136.7 735.0 1136.5C741.5 1136.3 748.0 1138.8 754.5 1140.4C761.0 1142.0 767.5 1145.0 774.0 1146.3C780.5 1147.6 787.6 1149.1 793.6 1148.0C799.6 1146.9 805.0 1141.6 809.9 1139.8C814.8 1138.0 818.1 1136.9 823.0 1137.2C827.9 1137.5 833.8 1139.6 839.2 1141.4C844.6 1143.2 850.3 1146.6 855.5 1148.0C860.7 1149.4 864.6 1150.8 870.3 1149.6C876.0 1148.4 884.2 1142.7 889.9 1140.8C895.6 1138.9 899.9 1137.3 904.5 1138.2C909.1 1139.1 913.5 1143.9 917.6 1146.3C921.7 1148.7 924.9 1153.1 929.0 1152.8C933.1 1152.5 937.4 1149.3 942.0 1144.7C946.6 1140.1 952.6 1132.1 956.7 1125.0C960.8 1117.9 963.4 1109.3 966.4 1102.3C969.4 1095.3 971.9 1087.4 974.6 1082.8C977.3 1078.2 980.0 1075.2 982.7 1074.7C985.4 1074.2 988.2 1074.9 990.9 1079.5C993.6 1084.1 996.0 1093.0 999.0 1102.3C1002.0 1111.5 1005.3 1125.2 1008.8 1135.0C1012.3 1144.8 1016.1 1154.0 1020.2 1161.0C1024.3 1168.0 1028.3 1173.5 1033.2 1177.3C1038.1 1181.1 1042.4 1182.1 1049.5 1183.8C1056.6 1185.5 1064.8 1187.0 1075.6 1187.7C1086.4 1188.4 1103.8 1188.2 1114.6 1187.7C1125.4 1187.2 1132.6 1184.6 1140.7 1184.4C1148.8 1184.2 1159.3 1186.1 1163.0 1186.4"/>
<path transform="translate(0 -0.7)" d="M148.1 1273.9C151.1 1274.1 157.6 1276.0 166.0 1275.0C174.4 1274.0 191.1 1270.0 198.6 1268.0C206.1 1266.0 206.1 1265.4 211.0 1263.0C215.9 1260.6 221.8 1256.5 227.9 1253.7C234.0 1250.9 241.3 1248.5 247.5 1245.9C253.7 1243.3 260.2 1241.3 265.1 1238.1C270.0 1234.8 272.2 1230.3 276.8 1226.4C281.4 1222.5 287.8 1218.8 292.4 1214.6C297.0 1210.4 300.6 1206.7 304.2 1201.5C307.8 1196.3 310.3 1187.4 313.9 1183.4C317.5 1179.4 321.5 1179.3 325.7 1177.5C329.9 1175.7 334.4 1174.2 339.3 1172.6C344.2 1170.9 350.4 1171.1 355.0 1167.6C359.6 1164.1 363.9 1155.9 367.2 1151.8C370.5 1147.7 372.9 1145.1 375.0 1143.2C377.1 1141.3 378.5 1140.9 380.0 1140.3C381.5 1139.7 382.6 1139.6 384.0 1139.6C385.4 1139.6 387.0 1139.8 388.5 1140.5C390.0 1141.2 391.2 1142.0 393.0 1143.5C394.8 1145.0 396.0 1145.5 399.0 1149.3C402.0 1153.1 407.1 1161.5 411.2 1166.4C415.3 1171.3 418.6 1176.0 423.4 1178.6C428.2 1181.2 434.0 1182.0 440.0 1182.0C446.0 1182.0 453.3 1177.6 459.2 1178.4C465.1 1179.2 470.1 1181.4 475.5 1186.6C480.9 1191.8 486.4 1201.5 491.8 1209.4C497.2 1217.3 500.3 1228.2 508.0 1233.8C515.7 1239.4 530.6 1243.1 538.0 1243.3C545.4 1243.5 548.0 1238.0 552.6 1235.2C557.2 1232.4 561.3 1226.9 565.6 1226.4C569.9 1225.9 573.2 1227.6 578.6 1232.0C584.0 1236.4 591.1 1246.5 598.2 1253.0C605.3 1259.5 614.5 1267.3 621.0 1271.0C627.5 1274.7 631.3 1274.7 637.3 1275.2C643.3 1275.8 650.8 1276.3 656.8 1274.3C662.8 1272.2 668.1 1266.6 673.0 1262.9C677.9 1259.2 682.2 1254.6 686.0 1252.4C689.8 1250.2 692.1 1249.4 695.9 1249.8C699.7 1250.2 704.6 1250.9 709.0 1254.7C713.4 1258.5 717.7 1267.4 722.0 1272.6C726.3 1277.8 730.1 1282.2 735.0 1285.7C739.9 1289.2 744.8 1292.3 751.3 1293.8C757.8 1295.3 767.5 1295.9 774.0 1294.8C780.5 1293.7 785.0 1291.0 790.4 1287.3C795.8 1283.6 802.0 1277.5 806.6 1272.6C811.2 1267.7 815.0 1261.2 818.0 1258.0C821.0 1254.8 822.1 1253.7 824.6 1253.7C827.1 1253.7 829.2 1254.3 832.7 1258.0C836.2 1261.7 841.4 1270.7 845.7 1275.9C850.1 1281.1 853.1 1285.6 858.8 1289.0C864.5 1292.4 874.3 1296.2 880.0 1296.4C885.7 1296.6 888.7 1291.5 893.0 1289.9C897.3 1288.3 902.3 1287.7 906.0 1286.6C909.7 1285.5 912.6 1285.0 915.2 1283.4C917.8 1281.8 920.0 1279.5 921.7 1276.9C923.4 1274.3 924.3 1271.5 925.6 1267.8C926.9 1264.1 928.2 1259.5 929.5 1254.7C930.8 1249.9 932.1 1243.8 933.4 1239.0C934.7 1234.2 936.0 1229.1 937.3 1226.0C938.6 1222.9 939.9 1221.4 941.2 1220.2C942.5 1219.0 943.8 1218.7 945.1 1218.9C946.4 1219.1 947.7 1219.2 949.0 1221.5C950.3 1223.8 951.7 1228.1 953.0 1232.6C954.3 1237.0 955.6 1242.8 956.9 1248.2C958.2 1253.6 959.3 1259.7 960.8 1265.1C962.3 1270.5 963.8 1275.8 966.0 1280.8C968.2 1285.8 970.8 1291.0 973.8 1295.1C976.8 1299.2 980.3 1302.7 984.2 1305.5C988.1 1308.3 992.9 1310.4 997.3 1312.0C1001.6 1313.6 1003.2 1314.8 1010.3 1315.3C1017.4 1315.8 1027.0 1315.2 1040.0 1315.2C1053.0 1315.2 1073.6 1315.1 1088.6 1315.2C1103.6 1315.3 1117.6 1315.5 1130.0 1315.6C1142.4 1315.7 1157.5 1315.9 1163.0 1316.0"/>
<path transform="translate(0 0.7)" d="M148.1 1273.9C151.1 1274.1 157.6 1276.0 166.0 1275.0C174.4 1274.0 191.1 1270.0 198.6 1268.0C206.1 1266.0 206.1 1265.4 211.0 1263.0C215.9 1260.6 221.8 1256.5 227.9 1253.7C234.0 1250.9 241.3 1248.5 247.5 1245.9C253.7 1243.3 260.2 1241.3 265.1 1238.1C270.0 1234.8 272.2 1230.3 276.8 1226.4C281.4 1222.5 287.8 1218.8 292.4 1214.6C297.0 1210.4 300.6 1206.7 304.2 1201.5C307.8 1196.3 310.3 1187.4 313.9 1183.4C317.5 1179.4 321.5 1179.3 325.7 1177.5C329.9 1175.7 334.4 1174.2 339.3 1172.6C344.2 1170.9 350.4 1171.1 355.0 1167.6C359.6 1164.1 363.9 1155.9 367.2 1151.8C370.5 1147.7 372.9 1145.1 375.0 1143.2C377.1 1141.3 378.5 1140.9 380.0 1140.3C381.5 1139.7 382.6 1139.6 384.0 1139.6C385.4 1139.6 387.0 1139.8 388.5 1140.5C390.0 1141.2 391.2 1142.0 393.0 1143.5C394.8 1145.0 396.0 1145.5 399.0 1149.3C402.0 1153.1 407.1 1161.5 411.2 1166.4C415.3 1171.3 418.6 1176.0 423.4 1178.6C428.2 1181.2 434.0 1182.0 440.0 1182.0C446.0 1182.0 453.3 1177.6 459.2 1178.4C465.1 1179.2 470.1 1181.4 475.5 1186.6C480.9 1191.8 486.4 1201.5 491.8 1209.4C497.2 1217.3 500.3 1228.2 508.0 1233.8C515.7 1239.4 530.6 1243.1 538.0 1243.3C545.4 1243.5 548.0 1238.0 552.6 1235.2C557.2 1232.4 561.3 1226.9 565.6 1226.4C569.9 1225.9 573.2 1227.6 578.6 1232.0C584.0 1236.4 591.1 1246.5 598.2 1253.0C605.3 1259.5 614.5 1267.3 621.0 1271.0C627.5 1274.7 631.3 1274.7 637.3 1275.2C643.3 1275.8 650.8 1276.3 656.8 1274.3C662.8 1272.2 668.1 1266.6 673.0 1262.9C677.9 1259.2 682.2 1254.6 686.0 1252.4C689.8 1250.2 692.1 1249.4 695.9 1249.8C699.7 1250.2 704.6 1250.9 709.0 1254.7C713.4 1258.5 717.7 1267.4 722.0 1272.6C726.3 1277.8 730.1 1282.2 735.0 1285.7C739.9 1289.2 744.8 1292.3 751.3 1293.8C757.8 1295.3 767.5 1295.9 774.0 1294.8C780.5 1293.7 785.0 1291.0 790.4 1287.3C795.8 1283.6 802.0 1277.5 806.6 1272.6C811.2 1267.7 815.0 1261.2 818.0 1258.0C821.0 1254.8 822.1 1253.7 824.6 1253.7C827.1 1253.7 829.2 1254.3 832.7 1258.0C836.2 1261.7 841.4 1270.7 845.7 1275.9C850.1 1281.1 853.1 1285.6 858.8 1289.0C864.5 1292.4 874.3 1296.2 880.0 1296.4C885.7 1296.6 888.7 1291.5 893.0 1289.9C897.3 1288.3 902.3 1287.7 906.0 1286.6C909.7 1285.5 912.6 1285.0 915.2 1283.4C917.8 1281.8 920.0 1279.5 921.7 1276.9C923.4 1274.3 924.3 1271.5 925.6 1267.8C926.9 1264.1 928.2 1259.5 929.5 1254.7C930.8 1249.9 932.1 1243.8 933.4 1239.0C934.7 1234.2 936.0 1229.1 937.3 1226.0C938.6 1222.9 939.9 1221.4 941.2 1220.2C942.5 1219.0 943.8 1218.7 945.1 1218.9C946.4 1219.1 947.7 1219.2 949.0 1221.5C950.3 1223.8 951.7 1228.1 953.0 1232.6C954.3 1237.0 955.6 1242.8 956.9 1248.2C958.2 1253.6 959.3 1259.7 960.8 1265.1C962.3 1270.5 963.8 1275.8 966.0 1280.8C968.2 1285.8 970.8 1291.0 973.8 1295.1C976.8 1299.2 980.3 1302.7 984.2 1305.5C988.1 1308.3 992.9 1310.4 997.3 1312.0C1001.6 1313.6 1003.2 1314.8 1010.3 1315.3C1017.4 1315.8 1027.0 1315.2 1040.0 1315.2C1053.0 1315.2 1073.6 1315.1 1088.6 1315.2C1103.6 1315.3 1117.6 1315.5 1130.0 1315.6C1142.4 1315.7 1157.5 1315.9 1163.0 1316.0"/>
<path transform="translate(0 -0.7)" d="M148.1 1429.3C150.0 1427.8 154.3 1421.9 159.5 1420.5C164.7 1419.1 171.4 1421.7 179.0 1421.0C186.6 1420.3 195.2 1418.1 205.0 1416.2C214.8 1414.3 226.8 1411.5 237.7 1409.7C248.6 1407.9 259.4 1407.7 270.3 1405.5C281.2 1403.3 294.2 1399.5 302.9 1396.7C311.6 1393.9 314.8 1391.2 322.4 1388.5C330.0 1385.8 342.0 1384.2 348.5 1380.4C355.0 1376.6 357.7 1369.8 361.5 1365.7C365.3 1361.6 365.3 1358.2 371.3 1356.0C377.3 1353.8 390.8 1354.6 397.3 1352.7C403.8 1350.8 405.0 1349.2 410.4 1344.6C415.8 1340.0 424.5 1330.3 429.9 1325.0C435.3 1319.7 439.5 1315.4 443.0 1313.0C446.5 1310.6 447.2 1309.8 451.0 1310.4C454.8 1311.1 461.1 1313.9 465.7 1316.9C470.3 1319.9 474.4 1325.0 478.8 1328.3C483.2 1331.6 486.9 1335.2 491.8 1337.0C496.7 1338.8 503.3 1338.6 508.0 1339.0C512.7 1339.4 515.3 1340.0 520.0 1339.4C524.7 1338.8 531.4 1335.5 536.3 1335.2C541.2 1334.9 545.0 1335.2 549.3 1337.8C553.6 1340.4 557.9 1345.9 562.3 1350.8C566.6 1355.7 570.5 1362.4 575.4 1367.0C580.3 1371.6 585.2 1375.9 591.7 1378.5C598.2 1381.1 607.5 1382.7 614.5 1382.7C621.5 1382.7 628.0 1381.4 634.0 1378.5C640.0 1375.6 645.7 1368.6 650.3 1365.5C654.9 1362.4 657.4 1360.0 661.7 1360.0C666.1 1360.0 671.2 1361.6 676.4 1365.5C681.5 1369.4 686.6 1377.2 692.6 1383.4C698.6 1389.7 706.2 1398.2 712.2 1403.0C718.2 1407.8 722.0 1409.8 728.5 1412.0C735.0 1414.2 744.8 1416.2 751.3 1416.0C757.8 1415.8 761.6 1414.8 767.6 1411.0C773.6 1407.2 781.6 1398.9 787.0 1393.2C792.4 1387.5 796.2 1380.3 800.0 1376.9C803.8 1373.5 806.1 1372.7 809.9 1373.0C813.7 1373.3 818.6 1374.6 823.0 1378.5C827.4 1382.4 831.7 1391.0 836.0 1396.4C840.3 1401.8 844.1 1407.5 849.0 1411.0C853.9 1414.5 860.1 1416.7 865.3 1417.6C870.5 1418.5 875.4 1416.7 880.0 1416.3C884.6 1415.9 889.1 1416.3 893.0 1415.0C896.9 1413.7 900.0 1412.8 903.5 1408.5C907.0 1404.2 911.0 1395.5 913.9 1389.0C916.8 1382.5 918.8 1375.9 921.0 1369.4C923.2 1362.9 925.1 1356.5 926.9 1350.0C928.7 1343.5 930.3 1335.3 932.0 1330.3C933.7 1325.3 935.4 1322.3 937.3 1319.9C939.2 1317.5 941.4 1315.6 943.5 1316.0C945.6 1316.4 947.9 1319.0 949.7 1322.5C951.5 1326.0 952.8 1331.1 954.3 1336.8C955.8 1342.5 956.9 1349.9 958.8 1356.4C960.6 1362.9 963.0 1369.5 965.4 1376.0C967.8 1382.5 970.2 1390.4 973.2 1395.4C976.2 1400.4 979.6 1403.4 983.6 1406.0C987.6 1408.6 991.7 1409.2 997.3 1411.0C1002.9 1412.8 1009.9 1415.0 1017.0 1417.0C1024.1 1419.0 1033.5 1421.5 1040.0 1422.8C1046.5 1424.1 1047.9 1424.0 1056.0 1425.0C1064.1 1426.0 1077.8 1427.7 1088.6 1428.5C1099.4 1429.3 1108.6 1429.7 1121.0 1430.0C1133.4 1430.3 1156.0 1430.5 1163.0 1430.6"/>
<path transform="translate(0 0.7)" d="M148.1 1429.3C150.0 1427.8 154.3 1421.9 159.5 1420.5C164.7 1419.1 171.4 1421.7 179.0 1421.0C186.6 1420.3 195.2 1418.1 205.0 1416.2C214.8 1414.3 226.8 1411.5 237.7 1409.7C248.6 1407.9 259.4 1407.7 270.3 1405.5C281.2 1403.3 294.2 1399.5 302.9 1396.7C311.6 1393.9 314.8 1391.2 322.4 1388.5C330.0 1385.8 342.0 1384.2 348.5 1380.4C355.0 1376.6 357.7 1369.8 361.5 1365.7C365.3 1361.6 365.3 1358.2 371.3 1356.0C377.3 1353.8 390.8 1354.6 397.3 1352.7C403.8 1350.8 405.0 1349.2 410.4 1344.6C415.8 1340.0 424.5 1330.3 429.9 1325.0C435.3 1319.7 439.5 1315.4 443.0 1313.0C446.5 1310.6 447.2 1309.8 451.0 1310.4C454.8 1311.1 461.1 1313.9 465.7 1316.9C470.3 1319.9 474.4 1325.0 478.8 1328.3C483.2 1331.6 486.9 1335.2 491.8 1337.0C496.7 1338.8 503.3 1338.6 508.0 1339.0C512.7 1339.4 515.3 1340.0 520.0 1339.4C524.7 1338.8 531.4 1335.5 536.3 1335.2C541.2 1334.9 545.0 1335.2 549.3 1337.8C553.6 1340.4 557.9 1345.9 562.3 1350.8C566.6 1355.7 570.5 1362.4 575.4 1367.0C580.3 1371.6 585.2 1375.9 591.7 1378.5C598.2 1381.1 607.5 1382.7 614.5 1382.7C621.5 1382.7 628.0 1381.4 634.0 1378.5C640.0 1375.6 645.7 1368.6 650.3 1365.5C654.9 1362.4 657.4 1360.0 661.7 1360.0C666.1 1360.0 671.2 1361.6 676.4 1365.5C681.5 1369.4 686.6 1377.2 692.6 1383.4C698.6 1389.7 706.2 1398.2 712.2 1403.0C718.2 1407.8 722.0 1409.8 728.5 1412.0C735.0 1414.2 744.8 1416.2 751.3 1416.0C757.8 1415.8 761.6 1414.8 767.6 1411.0C773.6 1407.2 781.6 1398.9 787.0 1393.2C792.4 1387.5 796.2 1380.3 800.0 1376.9C803.8 1373.5 806.1 1372.7 809.9 1373.0C813.7 1373.3 818.6 1374.6 823.0 1378.5C827.4 1382.4 831.7 1391.0 836.0 1396.4C840.3 1401.8 844.1 1407.5 849.0 1411.0C853.9 1414.5 860.1 1416.7 865.3 1417.6C870.5 1418.5 875.4 1416.7 880.0 1416.3C884.6 1415.9 889.1 1416.3 893.0 1415.0C896.9 1413.7 900.0 1412.8 903.5 1408.5C907.0 1404.2 911.0 1395.5 913.9 1389.0C916.8 1382.5 918.8 1375.9 921.0 1369.4C923.2 1362.9 925.1 1356.5 926.9 1350.0C928.7 1343.5 930.3 1335.3 932.0 1330.3C933.7 1325.3 935.4 1322.3 937.3 1319.9C939.2 1317.5 941.4 1315.6 943.5 1316.0C945.6 1316.4 947.9 1319.0 949.7 1322.5C951.5 1326.0 952.8 1331.1 954.3 1336.8C955.8 1342.5 956.9 1349.9 958.8 1356.4C960.6 1362.9 963.0 1369.5 965.4 1376.0C967.8 1382.5 970.2 1390.4 973.2 1395.4C976.2 1400.4 979.6 1403.4 983.6 1406.0C987.6 1408.6 991.7 1409.2 997.3 1411.0C1002.9 1412.8 1009.9 1415.0 1017.0 1417.0C1024.1 1419.0 1033.5 1421.5 1040.0 1422.8C1046.5 1424.1 1047.9 1424.0 1056.0 1425.0C1064.1 1426.0 1077.8 1427.7 1088.6 1428.5C1099.4 1429.3 1108.6 1429.7 1121.0 1430.0C1133.4 1430.3 1156.0 1430.5 1163.0 1430.6"/>
<path transform="translate(0 -0.7)" d="M148.1 1511.3C153.2 1511.0 167.8 1509.4 179.0 1509.7C190.2 1510.0 202.5 1513.1 215.0 1513.0C227.5 1512.9 240.4 1509.3 254.0 1509.0C267.6 1508.7 280.6 1511.3 296.4 1511.3C312.1 1511.3 336.6 1509.9 348.5 1509.0C360.4 1508.1 360.4 1507.4 368.0 1505.8C375.6 1504.2 385.3 1501.2 394.0 1499.3C402.7 1497.4 411.3 1496.1 420.0 1494.4C428.7 1492.7 437.2 1491.0 446.2 1488.9C455.2 1486.8 466.6 1485.7 473.8 1482.0C481.0 1478.3 484.2 1471.4 489.4 1466.5C494.6 1461.6 501.0 1455.7 505.1 1452.5C509.2 1449.3 511.6 1448.6 514.0 1447.5C516.4 1446.4 517.7 1445.8 519.7 1446.0C521.7 1446.2 523.9 1447.1 526.0 1448.5C528.1 1449.9 529.0 1451.0 532.4 1454.2C535.8 1457.4 540.5 1463.8 546.1 1467.9C551.7 1472.0 558.7 1476.0 565.7 1479.0C572.8 1482.0 581.9 1486.5 588.4 1486.0C594.9 1485.5 599.3 1480.8 604.7 1476.2C610.1 1471.6 616.1 1462.6 621.0 1458.3C625.9 1454.0 630.5 1451.8 634.0 1450.2C637.5 1448.6 638.7 1447.7 642.0 1448.5C645.3 1449.3 649.5 1450.9 653.6 1455.0C657.7 1459.1 661.7 1467.3 666.6 1473.0C671.5 1478.7 676.9 1484.8 682.9 1489.3C688.9 1493.8 695.9 1497.6 702.4 1500.0C708.9 1502.4 716.0 1504.1 722.0 1503.9C728.0 1503.7 732.8 1502.8 738.2 1499.0C743.6 1495.2 749.1 1487.2 754.5 1481.0C759.9 1474.8 766.4 1465.9 770.8 1461.6C775.1 1457.3 777.1 1455.0 780.6 1455.0C784.1 1455.0 787.7 1457.3 792.0 1461.6C796.3 1465.9 801.4 1474.8 806.6 1481.0C811.8 1487.2 817.6 1494.9 823.0 1499.0C828.4 1503.1 833.0 1504.6 839.2 1505.5C845.4 1506.4 854.4 1505.1 860.0 1504.2C865.6 1503.3 869.1 1501.8 873.0 1500.3C876.9 1498.8 880.2 1497.7 883.5 1495.1C886.8 1492.5 890.0 1488.4 892.6 1484.7C895.2 1481.0 897.2 1477.3 899.1 1473.0C901.0 1468.7 902.6 1463.6 904.3 1458.6C906.0 1453.6 907.8 1448.0 909.5 1443.0C911.2 1438.0 913.0 1432.5 914.7 1428.7C916.4 1424.9 918.0 1422.1 919.9 1420.2C921.8 1418.3 923.8 1417.4 925.8 1417.6C927.8 1417.8 929.9 1418.8 931.7 1421.5C933.6 1424.2 935.2 1429.2 936.9 1433.9C938.6 1438.6 940.1 1444.3 942.1 1449.5C944.1 1454.7 946.2 1460.3 948.6 1465.1C951.0 1469.9 953.8 1474.3 956.4 1478.2C959.0 1482.1 961.2 1485.3 964.2 1488.6C967.2 1491.8 970.8 1495.3 974.7 1497.7C978.6 1500.1 982.9 1501.5 987.7 1502.9C992.5 1504.3 997.9 1505.3 1003.3 1506.2C1008.7 1507.1 1008.5 1507.1 1020.0 1508.1C1031.5 1509.1 1048.5 1511.2 1072.3 1512.0C1096.1 1512.8 1147.9 1512.7 1163.0 1512.8"/>
<path transform="translate(0 0.7)" d="M148.1 1511.3C153.2 1511.0 167.8 1509.4 179.0 1509.7C190.2 1510.0 202.5 1513.1 215.0 1513.0C227.5 1512.9 240.4 1509.3 254.0 1509.0C267.6 1508.7 280.6 1511.3 296.4 1511.3C312.1 1511.3 336.6 1509.9 348.5 1509.0C360.4 1508.1 360.4 1507.4 368.0 1505.8C375.6 1504.2 385.3 1501.2 394.0 1499.3C402.7 1497.4 411.3 1496.1 420.0 1494.4C428.7 1492.7 437.2 1491.0 446.2 1488.9C455.2 1486.8 466.6 1485.7 473.8 1482.0C481.0 1478.3 484.2 1471.4 489.4 1466.5C494.6 1461.6 501.0 1455.7 505.1 1452.5C509.2 1449.3 511.6 1448.6 514.0 1447.5C516.4 1446.4 517.7 1445.8 519.7 1446.0C521.7 1446.2 523.9 1447.1 526.0 1448.5C528.1 1449.9 529.0 1451.0 532.4 1454.2C535.8 1457.4 540.5 1463.8 546.1 1467.9C551.7 1472.0 558.7 1476.0 565.7 1479.0C572.8 1482.0 581.9 1486.5 588.4 1486.0C594.9 1485.5 599.3 1480.8 604.7 1476.2C610.1 1471.6 616.1 1462.6 621.0 1458.3C625.9 1454.0 630.5 1451.8 634.0 1450.2C637.5 1448.6 638.7 1447.7 642.0 1448.5C645.3 1449.3 649.5 1450.9 653.6 1455.0C657.7 1459.1 661.7 1467.3 666.6 1473.0C671.5 1478.7 676.9 1484.8 682.9 1489.3C688.9 1493.8 695.9 1497.6 702.4 1500.0C708.9 1502.4 716.0 1504.1 722.0 1503.9C728.0 1503.7 732.8 1502.8 738.2 1499.0C743.6 1495.2 749.1 1487.2 754.5 1481.0C759.9 1474.8 766.4 1465.9 770.8 1461.6C775.1 1457.3 777.1 1455.0 780.6 1455.0C784.1 1455.0 787.7 1457.3 792.0 1461.6C796.3 1465.9 801.4 1474.8 806.6 1481.0C811.8 1487.2 817.6 1494.9 823.0 1499.0C828.4 1503.1 833.0 1504.6 839.2 1505.5C845.4 1506.4 854.4 1505.1 860.0 1504.2C865.6 1503.3 869.1 1501.8 873.0 1500.3C876.9 1498.8 880.2 1497.7 883.5 1495.1C886.8 1492.5 890.0 1488.4 892.6 1484.7C895.2 1481.0 897.2 1477.3 899.1 1473.0C901.0 1468.7 902.6 1463.6 904.3 1458.6C906.0 1453.6 907.8 1448.0 909.5 1443.0C911.2 1438.0 913.0 1432.5 914.7 1428.7C916.4 1424.9 918.0 1422.1 919.9 1420.2C921.8 1418.3 923.8 1417.4 925.8 1417.6C927.8 1417.8 929.9 1418.8 931.7 1421.5C933.6 1424.2 935.2 1429.2 936.9 1433.9C938.6 1438.6 940.1 1444.3 942.1 1449.5C944.1 1454.7 946.2 1460.3 948.6 1465.1C951.0 1469.9 953.8 1474.3 956.4 1478.2C959.0 1482.1 961.2 1485.3 964.2 1488.6C967.2 1491.8 970.8 1495.3 974.7 1497.7C978.6 1500.1 982.9 1501.5 987.7 1502.9C992.5 1504.3 997.9 1505.3 1003.3 1506.2C1008.7 1507.1 1008.5 1507.1 1020.0 1508.1C1031.5 1509.1 1048.5 1511.2 1072.3 1512.0C1096.1 1512.8 1147.9 1512.7 1163.0 1512.8"/>
<path transform="translate(0 -0.7)" d="M148.1 1616.5C151.6 1615.4 160.9 1611.3 169.3 1610.0C177.7 1608.7 188.3 1608.1 198.6 1608.4C208.9 1608.7 220.3 1610.5 231.2 1611.7C242.1 1613.0 249.2 1615.4 263.8 1615.9C278.4 1616.4 301.6 1615.2 319.0 1614.9C336.4 1614.6 354.4 1613.7 368.0 1614.0C381.6 1614.3 390.8 1616.3 400.6 1616.5C410.4 1616.7 415.8 1616.1 426.6 1614.9C437.5 1613.7 453.8 1611.3 465.7 1609.4C477.6 1607.5 489.2 1604.8 498.3 1603.5C507.4 1602.2 512.0 1603.0 520.0 1601.6C528.0 1600.2 537.3 1597.7 546.0 1595.0C554.7 1592.3 563.8 1588.8 572.0 1585.3C580.2 1581.8 587.9 1576.4 595.0 1574.0C602.1 1571.6 608.0 1570.3 614.5 1570.7C621.0 1571.1 626.4 1573.8 634.0 1576.2C641.6 1578.6 651.9 1583.0 660.0 1585.3C668.1 1587.6 675.8 1589.9 682.9 1590.2C690.0 1590.5 695.9 1589.7 702.4 1587.0C708.9 1584.3 716.0 1577.8 722.0 1574.0C728.0 1570.2 733.6 1566.2 738.2 1564.0C742.8 1561.8 745.2 1560.7 749.6 1561.0C754.0 1561.3 759.1 1563.1 764.3 1565.8C769.5 1568.5 775.2 1572.8 780.6 1577.2C786.0 1581.6 791.5 1588.8 796.9 1591.9C802.3 1595.0 807.2 1594.8 813.2 1595.8C819.2 1596.8 827.2 1597.5 832.7 1597.7C838.2 1597.9 841.9 1597.8 846.0 1597.2C850.1 1596.6 854.6 1595.5 857.5 1594.3C860.4 1593.1 861.8 1591.4 863.5 1590.3C865.2 1589.2 865.6 1589.6 867.8 1587.6C870.0 1585.6 874.1 1582.2 876.9 1578.5C879.7 1574.8 882.4 1570.1 884.8 1565.5C887.2 1560.9 889.1 1555.7 891.3 1551.1C893.5 1546.5 895.7 1541.6 897.8 1538.1C899.9 1534.6 901.9 1531.9 903.7 1530.3C905.6 1528.7 907.1 1528.1 908.9 1528.3C910.7 1528.5 912.9 1529.3 914.7 1531.6C916.5 1533.9 918.2 1538.3 919.9 1542.0C921.6 1545.7 923.1 1549.4 925.1 1553.7C927.1 1558.0 929.5 1563.8 931.7 1568.1C933.9 1572.4 935.8 1576.3 938.2 1579.8C940.6 1583.3 943.0 1586.3 946.0 1588.9C949.0 1591.5 952.3 1593.6 956.4 1595.4C960.5 1597.2 965.1 1598.6 970.7 1600.0C976.4 1601.4 982.1 1602.5 990.3 1603.9C998.5 1605.3 1009.0 1607.2 1020.0 1608.5C1031.0 1609.8 1044.6 1610.7 1056.0 1611.5C1067.4 1612.3 1077.8 1612.8 1088.6 1613.3C1099.4 1613.8 1108.6 1614.2 1121.0 1614.6C1133.4 1614.9 1156.0 1615.3 1163.0 1615.4"/>
<path transform="translate(0 0.7)" d="M148.1 1616.5C151.6 1615.4 160.9 1611.3 169.3 1610.0C177.7 1608.7 188.3 1608.1 198.6 1608.4C208.9 1608.7 220.3 1610.5 231.2 1611.7C242.1 1613.0 249.2 1615.4 263.8 1615.9C278.4 1616.4 301.6 1615.2 319.0 1614.9C336.4 1614.6 354.4 1613.7 368.0 1614.0C381.6 1614.3 390.8 1616.3 400.6 1616.5C410.4 1616.7 415.8 1616.1 426.6 1614.9C437.5 1613.7 453.8 1611.3 465.7 1609.4C477.6 1607.5 489.2 1604.8 498.3 1603.5C507.4 1602.2 512.0 1603.0 520.0 1601.6C528.0 1600.2 537.3 1597.7 546.0 1595.0C554.7 1592.3 563.8 1588.8 572.0 1585.3C580.2 1581.8 587.9 1576.4 595.0 1574.0C602.1 1571.6 608.0 1570.3 614.5 1570.7C621.0 1571.1 626.4 1573.8 634.0 1576.2C641.6 1578.6 651.9 1583.0 660.0 1585.3C668.1 1587.6 675.8 1589.9 682.9 1590.2C690.0 1590.5 695.9 1589.7 702.4 1587.0C708.9 1584.3 716.0 1577.8 722.0 1574.0C728.0 1570.2 733.6 1566.2 738.2 1564.0C742.8 1561.8 745.2 1560.7 749.6 1561.0C754.0 1561.3 759.1 1563.1 764.3 1565.8C769.5 1568.5 775.2 1572.8 780.6 1577.2C786.0 1581.6 791.5 1588.8 796.9 1591.9C802.3 1595.0 807.2 1594.8 813.2 1595.8C819.2 1596.8 827.2 1597.5 832.7 1597.7C838.2 1597.9 841.9 1597.8 846.0 1597.2C850.1 1596.6 854.6 1595.5 857.5 1594.3C860.4 1593.1 861.8 1591.4 863.5 1590.3C865.2 1589.2 865.6 1589.6 867.8 1587.6C870.0 1585.6 874.1 1582.2 876.9 1578.5C879.7 1574.8 882.4 1570.1 884.8 1565.5C887.2 1560.9 889.1 1555.7 891.3 1551.1C893.5 1546.5 895.7 1541.6 897.8 1538.1C899.9 1534.6 901.9 1531.9 903.7 1530.3C905.6 1528.7 907.1 1528.1 908.9 1528.3C910.7 1528.5 912.9 1529.3 914.7 1531.6C916.5 1533.9 918.2 1538.3 919.9 1542.0C921.6 1545.7 923.1 1549.4 925.1 1553.7C927.1 1558.0 929.5 1563.8 931.7 1568.1C933.9 1572.4 935.8 1576.3 938.2 1579.8C940.6 1583.3 943.0 1586.3 946.0 1588.9C949.0 1591.5 952.3 1593.6 956.4 1595.4C960.5 1597.2 965.1 1598.6 970.7 1600.0C976.4 1601.4 982.1 1602.5 990.3 1603.9C998.5 1605.3 1009.0 1607.2 1020.0 1608.5C1031.0 1609.8 1044.6 1610.7 1056.0 1611.5C1067.4 1612.3 1077.8 1612.8 1088.6 1613.3C1099.4 1613.8 1108.6 1614.2 1121.0 1614.6C1133.4 1614.9 1156.0 1615.3 1163.0 1615.4"/>
</g>
<g shape-rendering="geometricPrecision">
<rect x="143.2" y="43.4" width="2.7" height="1591.3" fill="#8a8a8a"/>
<rect x="145.9" y="43.4" width="2.9" height="1591.3" fill="#000"/>
<rect x="148.8" y="45.9" width="1013.5" height="2.9" fill="#808080"/>
<rect x="145.9" y="43.4" width="1019.0" height="2.5" fill="#000"/>
<rect x="1164.9" y="43.4" width="2.7" height="1591.3" fill="#8a8a8a"/>
<rect x="1162.3" y="43.4" width="2.6" height="1591.3" fill="#000"/>
<rect x="148.8" y="1629.3" width="1013.5" height="2.7" fill="#bdbdbd"/>
<rect x="145.9" y="1632.0" width="1019.0" height="2.7" fill="#000"/>
<rect x="145.9" y="1634.7" width="1019.0" height="1.7" fill="#e6e6e6"/>
</g>
<g stroke="#000" fill="none">
<path stroke="#262626" stroke-width="4.6" d="M383.3 1632.0V1612.7M619.9 1632.0V1612.7M856.5 1632.0V1612.7M1093.1 1632.0V1612.7M265.0 1632.0V1623.0M501.6 1632.0V1623.0M738.2 1632.0V1623.0M974.8 1632.0V1623.0M147.0 308.0H166.8M147.0 1620.0H165.0M147.0 964.0H156.5"/>
</g>
<text transform="translate(145.90 1708.30) scale(0.9800 1.0000)" font-size="71" text-anchor="middle">700</text>
<text transform="translate(382.50 1708.30) scale(0.9800 1.0000)" font-size="71" text-anchor="middle">750</text>
<text transform="translate(619.10 1708.30) scale(0.9800 1.0000)" font-size="71" text-anchor="middle">800</text>
<text transform="translate(855.70 1708.30) scale(0.9800 1.0000)" font-size="71" text-anchor="middle">850</text>
<text transform="translate(1092.30 1708.30) scale(0.9800 1.0000)" font-size="71" text-anchor="middle">900</text>
<text transform="translate(325.5 1800) scale(1 1.04)" font-size="78.5">Raman shift (cm<tspan font-size="55" dy="-34.13" dx="0.1">−</tspan><tspan font-size="55" dx="0.9" textLength="22" lengthAdjust="spacingAndGlyphs">1</tspan><tspan dy="34.13" dx="9.5">)</tspan></text>
<text transform="translate(95.3 1163) rotate(-90) scale(1 1.045)" font-size="78.5">Intensity (arb.units)</text>
<text class="b" transform="translate(1005.30 133.00) scale(0.9650 1.0000)" font-size="70.5" text-anchor="middle">MOVPE</text>
<text class="b" x="905.2" y="214.6" font-size="66"><tspan font-style="italic" textLength="49.1" lengthAdjust="spacingAndGlyphs">A</tspan><tspan font-size="44" dy="18.7" dx="-2.1" textLength="17.6" lengthAdjust="spacingAndGlyphs" stroke="#000" stroke-width="1.2">1</tspan><tspan dy="-18.7" dx="5.7" textLength="130.2" lengthAdjust="spacingAndGlyphs">(LO)</tspan></text>
<text class="b" transform="translate(1087.00 621.30) scale(1.0700 1.0000)" font-size="50" text-anchor="middle">40/40</text>
<text class="b" transform="translate(1087.00 849.60) scale(1.0700 1.0000)" font-size="50" text-anchor="middle">20/20</text>
<text class="b" transform="translate(1087.50 975.60) scale(1.0700 1.0000)" font-size="50" text-anchor="middle">16/16</text>
<text class="b" transform="translate(1087.50 1118.30) scale(1.0700 1.0000)" font-size="50" text-anchor="middle">12/12</text>
<text class="b" transform="translate(1087.50 1284.70) scale(1.0700 1.0000)" font-size="50" text-anchor="middle">10/10</text>
<text class="b" transform="translate(1099.00 1393.80) scale(1.0700 1.0000)" font-size="50" text-anchor="middle">8/8</text>
<text class="b" transform="translate(1099.00 1491.00) scale(1.0700 1.0000)" font-size="50" text-anchor="middle">6/6</text>
<text class="b" transform="translate(1099.00 1590.70) scale(1.0700 1.0000)" font-size="50" text-anchor="middle">4/4</text>
</svg></body></html>
